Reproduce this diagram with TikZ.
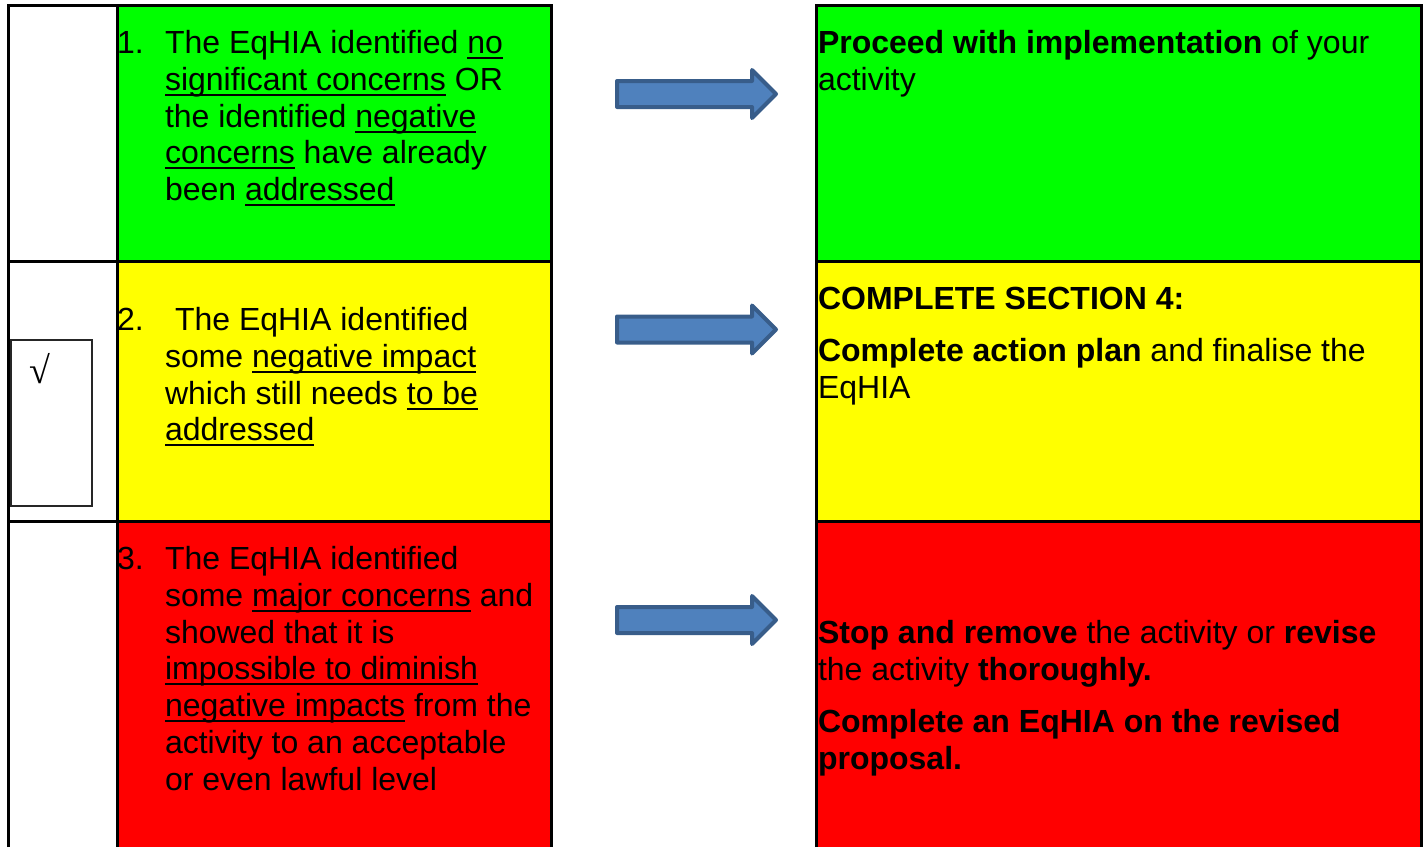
\documentclass[tikz,border=0pt]{standalone}
\usepackage{fontspec}
\setmainfont{Liberation Sans}
\newfontfamily\checkfont{Liberation Serif}
\newsavebox\ulbox
\newcommand\myul[1]{\sbox\ulbox{#1}\rlap{\rule[-5.5pt]{\wd\ulbox}{2pt}}\usebox\ulbox}
\definecolor{cgreen}{HTML}{00FF00}
\definecolor{cyellow}{HTML}{FFFF00}
\definecolor{cred}{HTML}{FF0000}
\definecolor{afill}{HTML}{4F81BD}
\definecolor{aline}{HTML}{385D8A}
\begin{document}
\begin{tikzpicture}[x=1pt,y=-1pt,
  grid/.style={draw=black,line width=3pt},
  txt/.style={anchor=base west,inner sep=0pt,outer sep=0pt,font=\fontsize{32}{36.8}\selectfont},
  bigarrow/.style={draw=aline,fill=afill,line width=4pt,line join=round}]
\useasboundingbox (0,0) rectangle (1426,847);
% cell fills
\fill[cgreen] (117,5.5) rectangle (551.5,261);
\fill[cyellow] (117,261) rectangle (551.5,521.5);
\fill[cred] (117,521.5) rectangle (551.5,847);
\fill[cgreen] (816,5.5) rectangle (1421.5,261);
\fill[cyellow] (816,261) rectangle (1421.5,521.5);
\fill[cred] (816,521.5) rectangle (1421.5,847);
% left table lines
\draw[grid] (8.5,847) -- (8.5,5.5) -- (551.5,5.5) -- (551.5,847);
\draw[grid] (117,5.5) -- (117,847);
\draw[grid] (8.5,261) -- (551.5,261);
\draw[grid] (8.5,521.5) -- (551.5,521.5);
% right table lines
\draw[grid] (816,847) -- (816,5.5) -- (1421.5,5.5) -- (1421.5,847);
\draw[grid] (816,261) -- (1421.5,261);
\draw[grid] (816,521.5) -- (1421.5,521.5);
% checkbox
\node[draw=black!85,line width=2pt,minimum width=80.5pt,minimum height=166pt,inner sep=0pt,anchor=north west] (cbox) at (10.3,339) {};
\node[anchor=base west,inner sep=0pt,font=\checkfont\fontsize{38}{38}\selectfont] (chk) at (29,383) {√};
% arrows
\foreach \cy/\nm in {94/a1,329.5/a2,620/a3}{
  \draw[bigarrow] (617,\cy-13) -- (752,\cy-13) -- (752,\cy-24) -- (776,\cy) -- (752,\cy+24) -- (752,\cy+13) -- (617,\cy+13) -- cycle;
}
% row 1 left
\node[txt] (n1) at (117,53.5) {1.};
\node[txt] (l11) at (165,53.5) {The EqHIA identified \myul{no}};
\node[txt] (l12) at (165,90.3) {\myul{significant concerns} OR};
\node[txt] (l13) at (165,127.1) {the identified \myul{negative}};
\node[txt] (l14) at (165,163.9) {\myul{concerns} have already};
\node[txt] (l15) at (165,200.7) {been \myul{addressed}};
% row 2 left
\node[txt] (n2) at (117,330.5) {2.};
\node[txt] (l21) at (175,330.5) {The EqHIA identified};
\node[txt] (l22) at (165,367.3) {some \myul{negative impact}};
\node[txt] (l23) at (165,404.1) {which still needs \myul{to be}};
\node[txt] (l24) at (165,440.9) {\myul{addressed}};
% row 3 left
\node[txt] (n3) at (117,569.5) {3.};
\node[txt] (l31) at (165,569.5) {The EqHIA identified};
\node[txt] (l32) at (165,606.3) {some \myul{major concerns} and};
\node[txt] (l33) at (165,643.1) {showed that it is};
\node[txt] (l34) at (165,679.9) {\myul{impossible to diminish}};
\node[txt] (l35) at (165,716.7) {\myul{negative impacts} from the};
\node[txt] (l36) at (165,753.5) {activity to an acceptable};
\node[txt] (l37) at (165,790.3) {or even lawful level};
% right column
\node[txt] (r11) at (818,53.5) {\textbf{Proceed with implementation} of your};
\node[txt] (r12) at (818,90.3) {activity};
\node[txt] (r21) at (818,309.5) {\textbf{COMPLETE SECTION 4:}};
\node[txt] (r22) at (818,361.5) {\textbf{Complete action plan} and finalise the};
\node[txt] (r23) at (818,398.3) {EqHIA};
\node[txt] (r31) at (818,643.5) {\textbf{Stop and remove} the activity or \textbf{revise}};
\node[txt] (r32) at (818,680.3) {the activity \textbf{thoroughly.}};
\node[txt] (r33) at (818,732.5) {\textbf{Complete an EqHIA on the revised}};
\node[txt] (r34) at (818,769.3) {\textbf{proposal.}};
\end{tikzpicture}
\end{document}
